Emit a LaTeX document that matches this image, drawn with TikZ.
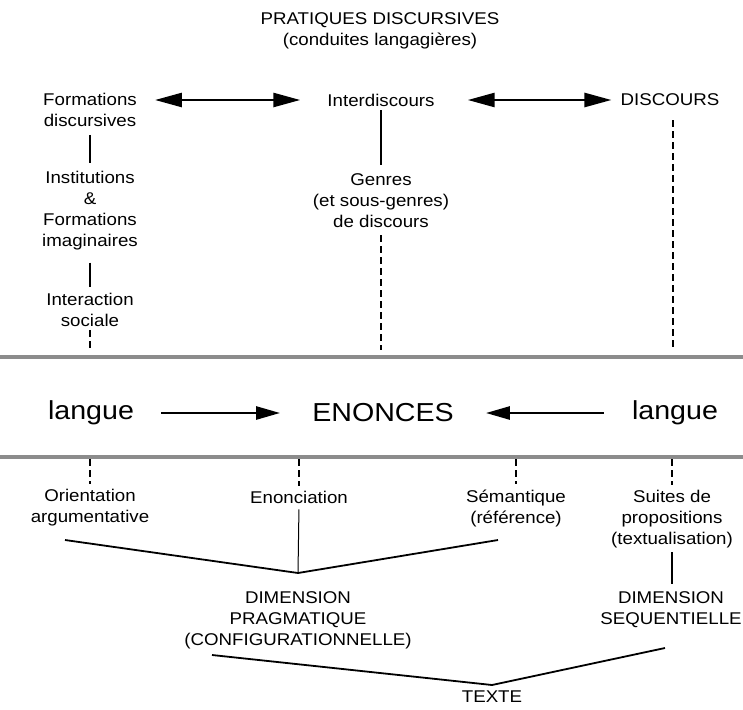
\documentclass[tikz,border=0pt]{standalone}
\usepackage{fontspec}
\setmainfont{Liberation Sans}[FakeStretch=1.1]
\usetikzlibrary{arrows.meta,calc}
\begin{document}
\begin{tikzpicture}[x=1pt,y=-1pt,
  lbl/.style={inner sep=2pt, align=center, font=\fontsize{17}{21}\selectfont},
  big/.style={inner sep=2pt, font=\fontsize{26}{30}\selectfont},
  conn/.style={line width=1.4pt},
  dsh/.style={line width=1.4pt, dash pattern=on 7pt off 4pt},
  dbl/.style={line width=2.6pt, {Triangle[length=27pt,width=14pt]}-{Triangle[length=27pt,width=14pt]}},
  sgl/.style={line width=2.6pt, -{Triangle[length=24pt,width=13pt]}},
  brk/.style={line width=1.8pt},
  sep/.style={line width=3.5pt, black!45}]
\useasboundingbox (0,0) rectangle (743,709);
% separators
\coordinate (tl) at (0,357); \coordinate (tr) at (743,357);
\coordinate (bl) at (0,457); \coordinate (br) at (743,457);
\draw[sep] (tl) -- (tr);
\draw[sep] (bl) -- (br);
% top part
\node[lbl] (title) at (380,31) {PRATIQUES DISCURSIVES\\(conduites langagières)};
\node[lbl] (fd) at (90,110) {Formations\\discursives};
\node[lbl] (inter) at (381,100) {Interdiscours};
\node[lbl] (disc) at (670,100) {DISCOURS};
\node[lbl] (inst) at (90,211) {Institutions\\\&\\Formations\\imaginaires};
\node[lbl] (intsoc) at (90,310) {Interaction\\sociale};
\node[lbl] (genres) at (381,201) {Genres\\(et sous-genres)\\de discours};
\draw[dbl, shorten <=16pt, shorten >=25pt] (fd.east |- inter.west) -- (inter.west);
\draw[dbl, shorten <=31pt, shorten >=7pt] (inter.east) -- (disc.west);
\draw[conn, shorten <=6pt, shorten >=6pt] (fd) -- (inst);
\draw[conn, shorten <=10pt, shorten >=4pt] (inst) -- (intsoc);
\draw[dsh, shorten <=1pt, shorten >=7pt] (intsoc.south) -- (intsoc.south |- tl);
\draw[conn, shorten <=2pt, shorten >=7pt] (inter) -- (genres);
\draw[dsh, shorten <=5pt, shorten >=7pt] (genres.south) -- (genres.south |- tl);
\draw[dsh, shorten <=12pt, shorten >=7pt] ([xshift=3pt]disc.south) -- ([xshift=3pt]disc.south |- tl);
% middle band
\node[big] (langueL) at (91,413) {langue};
\node[big] (enonces) at (383,413) {ENONCES};
\node[big] (langueR) at (675,413) {langue};
\draw[sgl, shorten <=25pt, shorten >=30pt] (langueL.east |- enonces.west) -- (enonces.west);
\draw[sgl, shorten <=26pt, shorten >=30pt] (langueR.west |- enonces.east) -- (enonces.east);
% lower part
\node[lbl] (orient) at (90,508) {Orientation\\argumentative};
\node[lbl] (enonc) at (299,497) {Enonciation};
\node[lbl] (sem) at (516,508) {Sémantique\\(référence)};
\node[lbl] (suites) at (672,519) {Suites de\\propositions\\(textualisation)};
\node[lbl] (dimP) at (298,620) {DIMENSION\\PRAGMATIQUE\\(CONFIGURATIONNELLE)};
\node[lbl] (dimS) at (671,610) {DIMENSION\\SEQUENTIELLE};
\node[lbl] (texte) at (492,697) {TEXTE};
\draw[dsh, shorten <=2pt, shorten >=3pt] (orient.north |- bl) -- (orient.north);
\draw[dsh, shorten <=2pt, shorten >=3pt] (enonc.north |- bl) -- (enonc.north);
\draw[dsh, shorten <=2pt, shorten >=3pt] (sem.north |- bl) -- (sem.north);
\draw[dsh, shorten <=2pt, shorten >=3pt] (suites.north |- bl) -- (suites.north);
\coordinate (vp) at (298,573);
\coordinate (a1) at (65,540);
\coordinate (a2) at (498,540);
\draw[line width=1pt, shorten <=4pt] (enonc.south) -- (vp);
\draw[brk] (a1) -- (vp) -- (a2);
\draw[conn, shorten <=2pt, shorten >=6pt] (suites.south) -- (suites.south |- dimS.north);
\coordinate (vt) at (492,685);
\coordinate (b1) at (212,655);
\coordinate (b2) at (665,648);
\draw[brk] (b1) -- (vt) -- (b2);
\end{tikzpicture}
\end{document}
